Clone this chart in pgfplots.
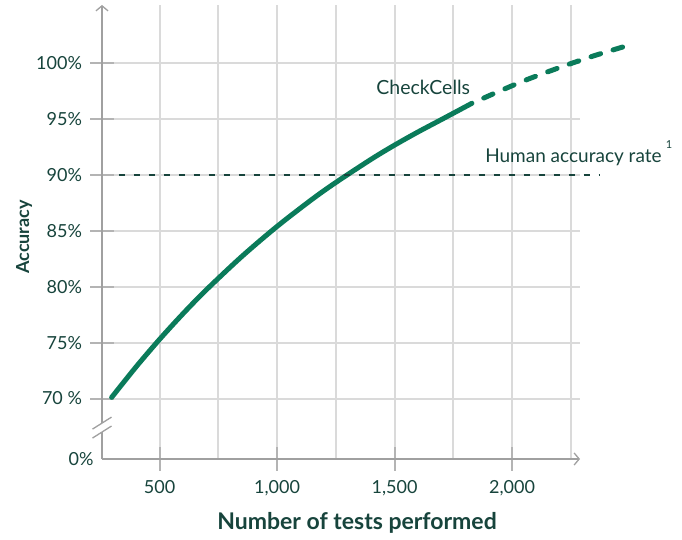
\documentclass[border=0pt]{standalone}
\usepackage{fontspec}
\setmainfont{Lato}
\usepackage{pgfplots}
\pgfplotsset{compat=1.18}
\usetikzlibrary{arrows.meta}
\definecolor{txt}{HTML}{17443C}
\definecolor{lgreen}{HTML}{0A7B5A}
\definecolor{gridc}{HTML}{DADADA}
\definecolor{axc}{HTML}{A0A0A0}
\definecolor{tickc}{HTML}{B4B4B4}
\begin{document}
\begin{tikzpicture}
\begin{axis}[
  scale only axis, width=478pt, height=454pt,
  xmin=255, xmax=2289, ymin=64.59, ymax=105.19,
  axis x line=bottom, axis y line=left,
  axis line style={axc, line width=1.3pt, -{Straight Barb[length=5pt,width=12pt]}},
  xtick={500,1000,1500,2000}, xticklabels={500,{1,000},{1,500},{2,000}},
  minor xtick={750,1250,1750,2250},
  ytick={70,75,80,85,90,95,100},
  yticklabels={70 \%,75\%,80\%,85\%,90\%,95\%,100\%},
  extra y ticks={64.59}, extra y tick labels={0\%},
  extra y tick style={major tick length=0pt, grid=none},
  grid=both,
  major grid style={gridc, line width=2pt},
  minor grid style={gridc, line width=2pt},
  tick align=center, major tick length=23pt, minor tick length=0pt,
  tick style={tickc, line width=2pt},
  ticklabel style={font=\fontsize{18}{20}\selectfont, text=txt},
  yticklabel style={xshift=-5pt},
  xticklabel style={yshift=-6pt},
  xlabel={Number of tests performed},
  xlabel style={font=\bfseries\fontsize{23}{26}\selectfont, text=txt, at={(axis description cs:0.5335,-0.141)}, anchor=center},
  ylabel={Accuracy},
  ylabel style={font=\bfseries\fontsize{18}{20}\selectfont, text=txt, at={(axis description cs:-0.163,0.489)}, anchor=center},
  clip=false,
]
\addplot[lgreen, line width=5pt, smooth, line cap=round] coordinates {
  (296,70.10) (400,72.83) (500,75.29) (600,77.59) (700,79.74) (850,82.70)
  (1000,85.39) (1150,87.83) (1250,89.32) (1400,91.39) (1500,92.66)
  (1600,93.84) (1707,95.03) (1829,96.40)};
\addplot[lgreen, line width=5pt, smooth, line cap=round, dash pattern=on 10pt off 13pt, dash phase=10pt] coordinates {
  (1829,96.40) (1950,97.52) (2055,98.45) (2150,99.20) (2246,99.92) (2350,100.66) (2480,101.49)};
\addplot[txt, line width=2pt, dash pattern=on 6.5pt off 8.5pt] coordinates {(326,90) (2372,90)};
\node[text=txt, font=\fontsize{19.5}{22}\selectfont] at (axis cs:1622,97.86) {CheckCells};
\node[text=txt, font=\fontsize{19}{22}\selectfont, anchor=east] at (axis cs:2651,91.6) {Human accuracy rate};
\node[text=txt, font=\fontsize{11}{12}\selectfont] at (axis cs:2668,92.67) {1};
\coordinate (O) at (rel axis cs:0,0);
\coordinate (B1) at (axis cs:255,67.8);
\coordinate (B2) at (axis cs:255,67.0);
\end{axis}
\fill[white] ([shift={(-9.5pt,-6pt)}]B1) -- ([shift={(9.5pt,6pt)}]B1) -- ([shift={(9.5pt,6pt)}]B2) -- ([shift={(-9.5pt,-6pt)}]B2) -- cycle;
\draw[axc, line width=1.3pt] ([shift={(-9.5pt,-6pt)}]B1) -- ([shift={(9.5pt,6pt)}]B1);
\draw[axc, line width=1.3pt] ([shift={(-9.5pt,-6pt)}]B2) -- ([shift={(9.5pt,6pt)}]B2);
\pgfresetboundingbox
\path ([shift={(-102pt,-81pt)}]O) rectangle ([shift={(580pt,459pt)}]O);
\end{tikzpicture}
\end{document}
